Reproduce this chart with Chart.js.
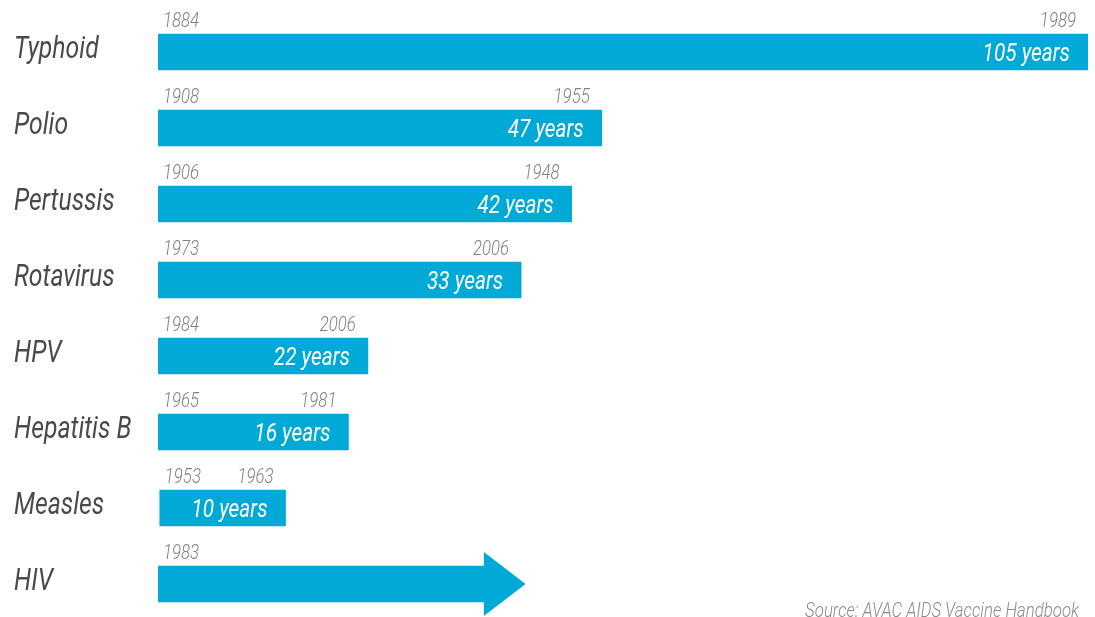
<!DOCTYPE html>
<html>
<head>
<meta charset="utf-8">
<script src="https://cdn.jsdelivr.net/npm/chart.js@4/dist/chart.umd.min.js"></script>
<style>
    html, body { margin: 0; padding: 0; background: #fff; overflow: hidden; }
    #wrap { width: 1095px; height: 617px; overflow: hidden; }
</style>
</head>
<body>
<div id="wrap"><canvas id="chart" width="1095" height="640"></canvas></div>
<script>
// Chart data
const diseases = ['Typhoid', 'Polio', 'Pertussis', 'Rotavirus', 'HPV', 'Hepatitis B', 'Measles', 'HIV'];
const startYears = [1884, 1908, 1906, 1973, 1984, 1965, 1953, 1983];
const endYears = [1989, 1955, 1948, 2006, 2006, 1981, 1963, null];
const durations = [105, 47, 42, 33, 22, 16, 10, null];

// Bar lengths as drawn in the picture (Typhoid = 105 units)
const barStart = [0, 0, 0, 0, 0, 0, 0.2, 0];
const barEnd = [105, 50.1, 46.7, 41, 23.7, 21.5, 14.4, 36.9];
const hivArrowTip = 41.5;

const sourceText = 'Source: AVAC AIDS Vaccine Handbook';

const BAR_COLOR = '#00a9d6';
const FONT = "Roboto, 'DejaVu Sans', sans-serif";
const SQUEEZE = 0.8; // the original uses a condensed face

// draw text squeezed horizontally around its anchor
function condensedText(ctx, text, x, y, align) {
    ctx.save();
    ctx.translate(x, y);
    ctx.scale(SQUEEZE, 1);
    ctx.textAlign = align;
    ctx.textBaseline = 'alphabetic';
    ctx.fillText(text, 0, 0);
    ctx.restore();
}

const labelsPlugin = {
    id: 'timelineLabels',
    afterDatasetsDraw(chart) {
        const ctx = chart.ctx;
        const meta = chart.getDatasetMeta(0);
        const xScale = chart.scales.x;
        ctx.save();

        meta.data.forEach((bar, i) => {
            const p = bar.getProps(['x', 'y', 'base', 'height'], true);
            const left = Math.min(p.x, p.base);
            const right = Math.max(p.x, p.base);
            const top = p.y - p.height / 2;

            // Arrow head for HIV (still no vaccine)
            if (endYears[i] === null) {
                const tip = xScale.getPixelForValue(hivArrowTip);
                ctx.fillStyle = BAR_COLOR;
                ctx.beginPath();
                ctx.moveTo(right - 1, p.y - 32);
                ctx.lineTo(tip, p.y);
                ctx.lineTo(right - 1, p.y + 32);
                ctx.closePath();
                ctx.fill();
            }

            // Disease name
            ctx.fillStyle = '#4a4a4a';
            ctx.font = 'italic 400 31px ' + FONT;
            condensedText(ctx, diseases[i], 14, p.y + 6, 'left');

            // Years above bar
            ctx.fillStyle = '#808080';
            ctx.font = 'italic 300 21px ' + FONT;
            condensedText(ctx, String(startYears[i]), left + 5, top - 7, 'left');
            if (endYears[i] !== null) {
                condensedText(ctx, String(endYears[i]), right - 12, top - 7, 'right');
            }

            // Duration inside bar
            if (durations[i] !== null) {
                ctx.fillStyle = '#ffffff';
                ctx.font = 'italic 400 26px ' + FONT;
                condensedText(ctx, durations[i] + ' years', right - 18, p.y + 9, 'right');
            }
        });

        // Source note
        ctx.fillStyle = '#8a8a8a';
        ctx.font = 'italic 300 21px ' + FONT;
        condensedText(ctx, sourceText, 1079, 617, 'right');

        ctx.restore();
    }
};

new Chart(document.getElementById('chart'), {
    type: 'bar',
    data: {
        labels: diseases,
        datasets: [{
            data: barStart.map((s, i) => [s, barEnd[i]]),
            backgroundColor: BAR_COLOR,
            borderWidth: 0,
            borderSkipped: false,
            barThickness: 36
        }]
    },
    options: {
        indexAxis: 'y',
        responsive: false,
        devicePixelRatio: 1,
        animation: false,
        layout: { padding: { left: 158, right: 7, top: 14, bottom: 18 } },
        scales: {
            x: { type: 'linear', min: 0, max: 105, display: false },
            y: { display: false }
        },
        plugins: {
            legend: { display: false },
            tooltip: { enabled: false }
        }
    },
    plugins: [labelsPlugin]
});
</script>
</body>
</html>
